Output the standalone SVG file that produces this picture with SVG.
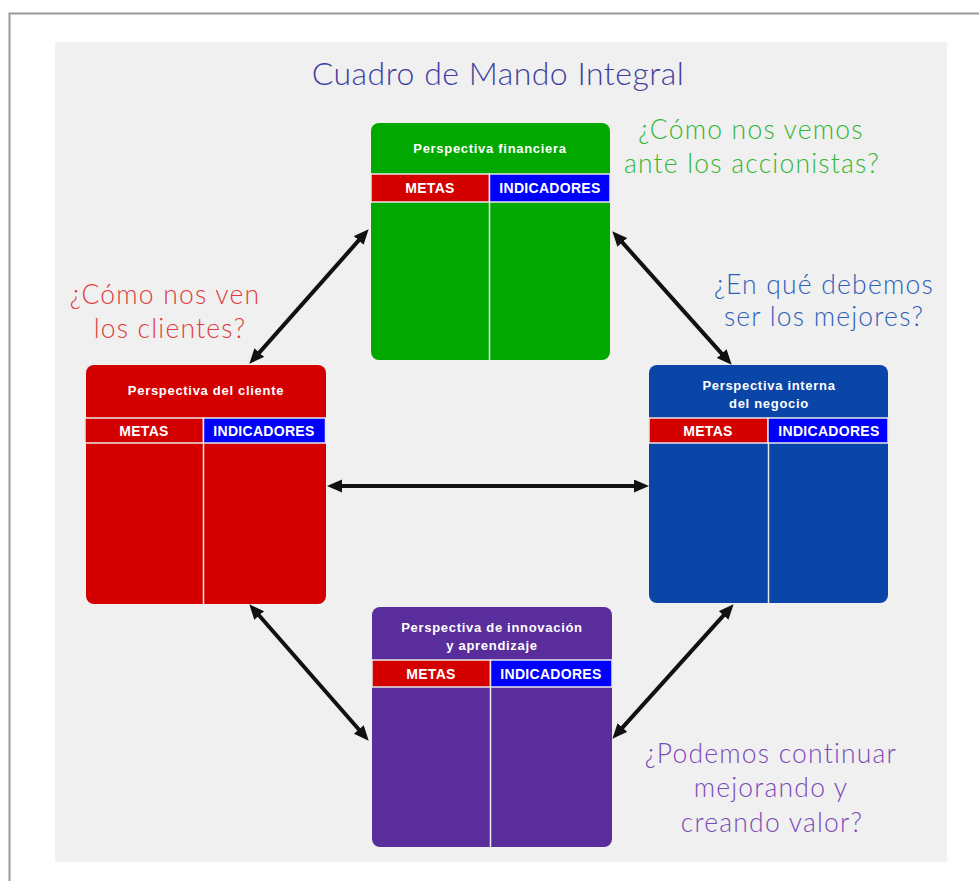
<svg xmlns="http://www.w3.org/2000/svg" width="979" height="881" viewBox="0 0 979 881">
<defs>
<style>
.q{font-family:Lato,"Open Sans","DejaVu Sans",sans-serif;font-weight:300;text-anchor:middle;font-size:26.5px;letter-spacing:1.2px}
.h{font-family:"Liberation Sans",Arial,sans-serif;font-weight:bold;font-size:13px;letter-spacing:0.7px;fill:#ffffff;text-anchor:middle}
.b{font-family:"Liberation Sans",Arial,sans-serif;font-weight:bold;font-size:14px;letter-spacing:0.3px;fill:#ffffff;text-anchor:middle}
.sep{stroke:#e8e8e8;stroke-width:1.5}
.con{stroke:#111111;stroke-width:4;fill:none;marker-start:url(#ah);marker-end:url(#ah)}
</style>
<marker id="ah" markerUnits="userSpaceOnUse" markerWidth="16" markerHeight="14" refX="3" refY="6.5" orient="auto-start-reverse">
<path d="M0,0 L15,6.5 L0,13 z" fill="#111111"/>
</marker>
</defs>
<rect x="0" y="0" width="979" height="881" fill="#ffffff"/>
<rect x="9.5" y="13.5" width="1000" height="900" fill="none" stroke="#999999" stroke-width="2"/>
<rect x="55" y="42" width="892" height="820" fill="#f0f0f0"/>
<text x="498" y="85" font-family="Lato,'Open Sans','DejaVu Sans',sans-serif" font-weight="300" text-anchor="middle" font-size="32" letter-spacing="0.5" fill="#3f3f9f">Cuadro de Mando Integral</text>

<g id="q-financiera">
<text class="q" x="751" y="139" fill="#33b733">¿Cómo nos vemos</text>
<text class="q" x="752" y="173" fill="#33b733">ante los accionistas?</text>
</g>
<g id="q-cliente">
<text class="q" x="165" y="304" fill="#e03c3c">¿Cómo nos ven</text>
<text class="q" x="170" y="338" fill="#e03c3c">los clientes?</text>
</g>
<g id="q-interna">
<text class="q" x="824" y="294" fill="#2f5fb8">¿En qué debemos</text>
<text class="q" x="824" y="326" fill="#2f5fb8">ser los mejores?</text>
</g>
<g id="q-innovacion">
<text class="q" x="771" y="763" fill="#7a4ab8">¿Podemos continuar</text>
<text class="q" x="771" y="797" fill="#7a4ab8">mejorando y</text>
<text class="q" x="772" y="832" fill="#7a4ab8">creando valor?</text>
</g>

<g id="connectors">
<line class="con" x1="360.7" y1="238.2" x2="257.3" y2="354.8"/>
<line class="con" x1="620.3" y1="240.2" x2="723.7" y2="355.8"/>
<line class="con" x1="339" y1="486" x2="637" y2="486"/>
<line class="con" x1="257.2" y1="613.3" x2="360.8" y2="731.7"/>
<line class="con" x1="725.6" y1="613.2" x2="620.4" y2="729.8"/>
</g>

<g id="node-financiera">
<rect x="371" y="123" width="239" height="237" rx="8" fill="#00a800"/>
<rect x="371" y="174" width="118.5" height="28" fill="#d40000" class="sep"/>
<rect x="489.5" y="174" width="120.5" height="28" fill="#0000ff" class="sep"/>
<line x1="489.5" y1="202" x2="489.5" y2="360" class="sep"/>
<text class="h" x="490" y="153">Perspectiva financiera</text>
<text class="b" x="430" y="193">METAS</text>
<text class="b" x="550" y="193">INDICADORES</text>
</g>

<g id="node-cliente">
<rect x="86" y="365" width="240" height="239" rx="8" fill="#d40000"/>
<rect x="85" y="418" width="118.5" height="25" fill="#d40000" class="sep"/>
<rect x="203.5" y="418" width="122" height="25" fill="#0000ff" class="sep"/>
<line x1="203.5" y1="443" x2="203.5" y2="604" class="sep"/>
<text class="h" x="206" y="395">Perspectiva del cliente</text>
<text class="b" x="144" y="435.5">METAS</text>
<text class="b" x="264" y="435.5">INDICADORES</text>
</g>

<g id="node-interna">
<rect x="649" y="365" width="239" height="238" rx="8" fill="#0a45a8"/>
<rect x="649" y="418" width="119" height="25" fill="#d40000" class="sep"/>
<rect x="768" y="418" width="120" height="25" fill="#0000ff" class="sep"/>
<line x1="768.5" y1="443" x2="768.5" y2="603" class="sep"/>
<text class="h" x="769" y="390">Perspectiva interna</text>
<text class="h" x="769" y="408">del negocio</text>
<text class="b" x="708" y="435.5">METAS</text>
<text class="b" x="829" y="435.5">INDICADORES</text>
</g>

<g id="node-innovacion">
<rect x="372" y="607" width="240" height="240" rx="8" fill="#5a2d9c"/>
<rect x="372" y="660" width="118.5" height="27" fill="#d40000" class="sep"/>
<rect x="490.5" y="660" width="121.5" height="27" fill="#0000ff" class="sep"/>
<line x1="490.5" y1="687" x2="490.5" y2="847" class="sep"/>
<text class="h" x="492" y="632">Perspectiva de innovación</text>
<text class="h" x="492" y="650">y aprendizaje</text>
<text class="b" x="431" y="678.5">METAS</text>
<text class="b" x="551" y="678.5">INDICADORES</text>
</g>
</svg>
